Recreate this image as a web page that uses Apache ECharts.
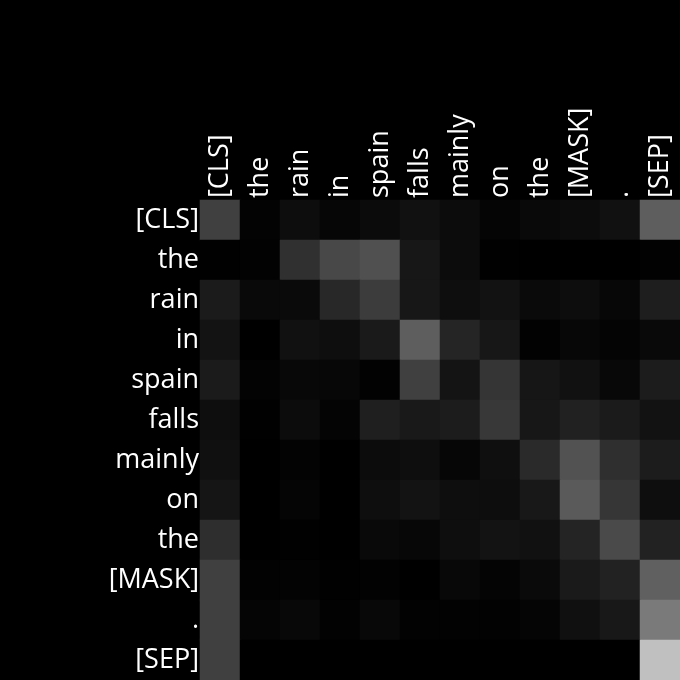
<!DOCTYPE html>
<html><head><meta charset="utf-8">
<script src="https://cdn.jsdelivr.net/npm/echarts@6/dist/echarts.min.js"></script>
<style>html,body{margin:0;padding:0;background:#000;}#c{width:680px;height:680px;}</style>
</head><body><div id="c"></div>
<script>
const tokens = ["[CLS]","the","rain","in","spain","falls","mainly","on","the","[MASK]",".","[SEP]"];
// attention weights per row (query token), read as grey level / 255
const row0  = [64,3,13,6,11,17,12,5,9,12,17,94];
const row1  = [1,2,48,72,80,23,12,1,0,0,0,2];
const row2  = [27,9,10,40,60,23,14,18,10,13,7,30];
const row3  = [19,0,17,14,26,94,37,23,2,7,4,9];
const row4  = [27,3,8,7,2,64,20,53,22,17,8,28];
const row5  = [14,1,12,4,31,25,28,56,23,33,27,18];
const row6  = [16,0,3,0,12,14,6,15,42,82,47,28];
const row7  = [21,0,5,0,14,19,14,13,24,90,54,14];
const row8  = [46,0,1,0,9,7,14,19,17,36,74,34];
const row9  = [64,2,3,1,2,0,8,4,10,26,34,96];
const row10 = [64,5,8,2,8,2,2,2,5,16,24,122];
const row11 = [64,0,0,0,0,0,0,0,0,0,0,192];
const rows = [row0,row1,row2,row3,row4,row5,row6,row7,row8,row9,row10,row11];

const data = [];
rows.forEach((r, i) => r.forEach((v, j) => data.push([j, i, v / 255])));

const font = 'Open Sans';
const chart = echarts.init(document.getElementById('c'));
chart.setOption({
  backgroundColor: '#000',
  animation: false,
  grid: { left: 200, top: 200, right: 0, bottom: 0 },
  xAxis: {
    type: 'category', data: tokens, position: 'top',
    axisLine: { show: false }, axisTick: { show: false }, splitLine: { show: false },
    axisLabel: { rotate: -90, color: '#fff', fontSize: 27, fontFamily: font, margin: 2, interval: 0 }
  },
  yAxis: {
    type: 'category', data: tokens, inverse: true,
    axisLine: { show: false }, axisTick: { show: false }, splitLine: { show: false },
    axisLabel: { color: '#fff', fontSize: 27, fontFamily: font, margin: 1, interval: 0 }
  },
  visualMap: { show: false, min: 0, max: 1, inRange: { color: ['#000000', '#ffffff'] } },
  series: [{ type: 'heatmap', data: data, itemStyle: { borderWidth: 0 }, emphasis: { disabled: true } }]
});
</script></body></html>
